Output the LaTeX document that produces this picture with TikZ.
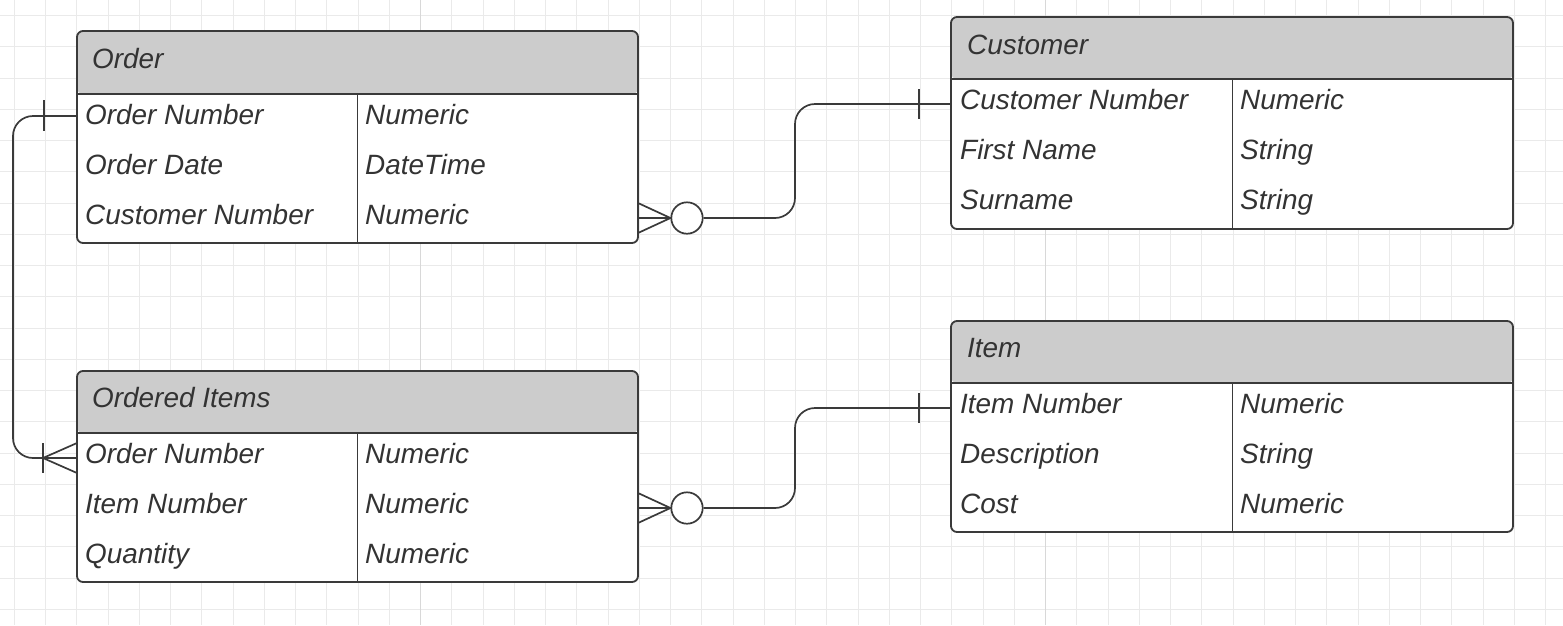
\documentclass[tikz,border=0pt]{standalone}
\usepackage{fontspec}
\setmainfont{Liberation Sans}
\definecolor{bordercol}{HTML}{3A3A3A}
\definecolor{hdrcol}{HTML}{CCCCCC}
\definecolor{txtcol}{HTML}{333333}
\definecolor{minorgrid}{HTML}{EAEAEA}
\definecolor{majorgrid}{HTML}{D8D8D8}
\tikzset{
  entity/.style={draw=bordercol, line width=1.8pt, rounded corners=6pt, fill=white,
    anchor=north west, inner sep=0pt, outer sep=0pt,
    path picture={\fill[hdrcol] (path picture bounding box.north west) rectangle ([yshift=-#1]path picture bounding box.north east);}},
  sepline/.style={draw=bordercol, line width=1.8pt},
  txt/.style={anchor=base west, inner sep=0pt, font=\fontsize{27.9}{33}\selectfont\itshape, text=txtcol},
  conn/.style={draw=bordercol, line width=1.7pt, rounded corners=20pt},
  endline/.style={draw=bordercol, line width=1.7pt},
  ring/.style={draw=bordercol, line width=1.7pt, fill=white, circle, minimum size=31.4pt, inner sep=0pt},
  minorline/.style={draw=minorgrid, line width=1pt},
  majorline/.style={draw=majorgrid, line width=1.8pt}
}
\begin{document}
\begin{tikzpicture}[x=1pt,y=-1pt]
\useasboundingbox (0,0) rectangle (1563,625);
\fill[white] (0,0) rectangle (1563,625);
% grid
\foreach \i in {0,...,49} \draw[minorline] ({14.3+31.25*\i},0) -- ++(0,625);
\foreach \j in {0,...,19} \draw[minorline] (0,{15.5+31.25*\j}) -- ++(1563,0);
\draw[majorline] (420.5,0) -- (420.5,625);
\draw[majorline] (1045.5,0) -- (1045.5,625);

% Order
\node[entity=63pt, minimum width=561pt, minimum height=212pt] (order) at (77,31) {};
\draw[sepline] (77,94) -- (638,94);
\draw[sepline] (357.5,94) -- (357.5,243);
\node[txt] (orderT) at (92,68) {Order};
\node[txt] (o1) at (85,124.5) {Order Number};
\node[txt] (o2) at (85,174.5) {Order Date};
\node[txt] (o3) at (85,224.5) {Customer Number};
\node[txt] (o1t) at (365,124.5) {Numeric};
\node[txt] (o2t) at (365,174.5) {DateTime};
\node[txt] (o3t) at (365,224.5) {Numeric};

% Customer
\node[entity=62pt, minimum width=562pt, minimum height=212pt] (cust) at (951,17) {};
\draw[sepline] (951,79) -- (1513,79);
\draw[sepline] (1232.5,79) -- (1232.5,229);
\node[txt] (custT) at (967,54) {Customer};
\node[txt] (c1) at (960,109.5) {Customer Number};
\node[txt] (c2) at (960,159.5) {First Name};
\node[txt] (c3) at (960,209.5) {Surname};
\node[txt] (c1t) at (1240,109.5) {Numeric};
\node[txt] (c2t) at (1240,159.5) {String};
\node[txt] (c3t) at (1240,209.5) {String};

% Ordered Items
\node[entity=62pt, minimum width=561pt, minimum height=211pt] (oi) at (77,371) {};
\draw[sepline] (77,433) -- (638,433);
\draw[sepline] (357.5,433) -- (357.5,582);
\node[txt] (oiT) at (92,407.5) {Ordered Items};
\node[txt] (i1) at (85,463) {Order Number};
\node[txt] (i2) at (85,513) {Item Number};
\node[txt] (i3) at (85,563) {Quantity};
\node[txt] (i1t) at (365,463) {Numeric};
\node[txt] (i2t) at (365,513) {Numeric};
\node[txt] (i3t) at (365,563) {Numeric};

% Item
\node[entity=62pt, minimum width=562pt, minimum height=211pt] (item) at (951,321) {};
\draw[sepline] (951,383) -- (1513,383);
\draw[sepline] (1232.5,383) -- (1232.5,532);
\node[txt] (itemT) at (967,357.5) {Item};
\node[txt] (t1) at (960,413) {Item Number};
\node[txt] (t2) at (960,463) {Description};
\node[txt] (t3) at (960,513) {Cost};
\node[txt] (t1t) at (1240,413) {Numeric};
\node[txt] (t2t) at (1240,463) {String};
\node[txt] (t3t) at (1240,513) {Numeric};

% attachment points
\coordinate (pOrd) at (order.west |- 0,116);
\coordinate (pOi) at (oi.west |- 0,458);
\coordinate (pOc) at (order.east |- 0,218);
\coordinate (pCu) at (cust.west |- 0,104);
\coordinate (pOit) at (oi.east |- 0,508);
\coordinate (pIt) at (item.west |- 0,408);

% circles
\node[ring] (r1) at (687,218) {};
\node[ring] (r2) at (687,508) {};

% Order -> Ordered Items (one to many)
\draw[conn] (pOrd) -- (13,116) -- (13,458) -- (pOi);
\draw[endline] (44,100) -- (44,131);
\draw[endline] (43,443) -- (43,473);
\draw[endline] (pOi |- 0,443) -- (43,458) -- (pOi |- 0,473);

% Order -> Customer
\draw[endline] (pOc) -- (r1.west);
\draw[endline] (pOc |- 0,203) -- (r1.west) -- (pOc |- 0,233);
\draw[conn] (r1.east) -- (795,218) -- (795,104) -- (pCu);
\draw[endline] (919,89) -- (919,119);

% Ordered Items -> Item
\draw[endline] (pOit) -- (r2.west);
\draw[endline] (pOit |- 0,493) -- (r2.west) -- (pOit |- 0,523);
\draw[conn] (r2.east) -- (795,508) -- (795,408) -- (pIt);
\draw[endline] (919,393) -- (919,423);
\end{tikzpicture}
\end{document}
